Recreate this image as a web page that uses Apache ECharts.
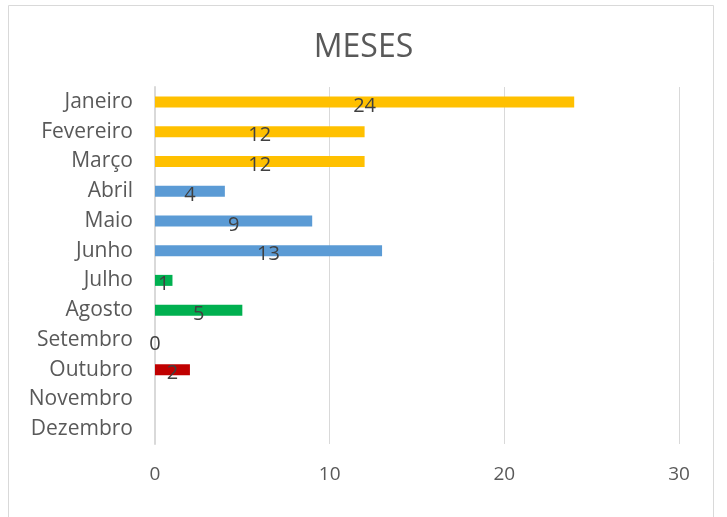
<!DOCTYPE html>
<html><head><meta charset="utf-8">
<script src="https://cdn.jsdelivr.net/npm/echarts@6/dist/echarts.min.js"></script>
<style>html,body{margin:0;padding:0;background:#fff}#c{width:727px;height:517px}</style>
</head><body><div id="c"></div>
<script>
const categories = ['Janeiro','Fevereiro','Março','Abril','Maio','Junho','Julho','Agosto','Setembro','Outubro','Novembro','Dezembro'];
const values = [24,12,12,4,9,13,1,5,0,2,null,null];
const barColors = ['#FFC000','#FFC000','#FFC000','#5B9BD5','#5B9BD5','#5B9BD5','#00B050','#00B050','#00B050','#C00000','#C00000','#C00000'];
const xTicks = [0,10,20,30];

const chart = echarts.init(document.getElementById('c'), null, {renderer:'canvas'});
const font = '"Open Sans", Lato, sans-serif';
chart.setOption({
  animation:false,
  graphic:[{type:'rect', shape:{x:8.5,y:5.5,width:705,height:520}, style:{fill:'none',stroke:'#d9d9d9',lineWidth:1}}],
  title:{text:'MESES', left:'center', top:27, textStyle:{fontFamily:font, fontWeight:'normal', fontSize:32, color:'#595959'}},
  grid:{left:155, right:48, top:87, bottom:73},
  xAxis:{type:'value', min:xTicks[0], max:xTicks[xTicks.length-1], interval:10,
    axisLine:{show:false}, axisTick:{show:false},
    axisLabel:{fontFamily:font, fontSize:19, color:'#595959', margin:21},
    splitLine:{lineStyle:{color:'#d9d9d9', width:1}}},
  yAxis:{type:'category', inverse:true, data:categories,
    axisLine:{lineStyle:{color:'#d9d9d9', width:2}}, axisTick:{show:false},
    axisLabel:{fontFamily:font, fontSize:21, color:'#595959', margin:22}},
  series:[{type:'bar', barWidth:11,
    data: values.map((v,i)=>({value:v, itemStyle:{color:barColors[i]}})),
    label:{show:true, position:'inside', offset:[0,4], fontFamily:font, fontSize:20, color:'#404040',
      formatter:p=> (p.value==null ? '' : String(p.value))}}]
});
</script></body></html>
